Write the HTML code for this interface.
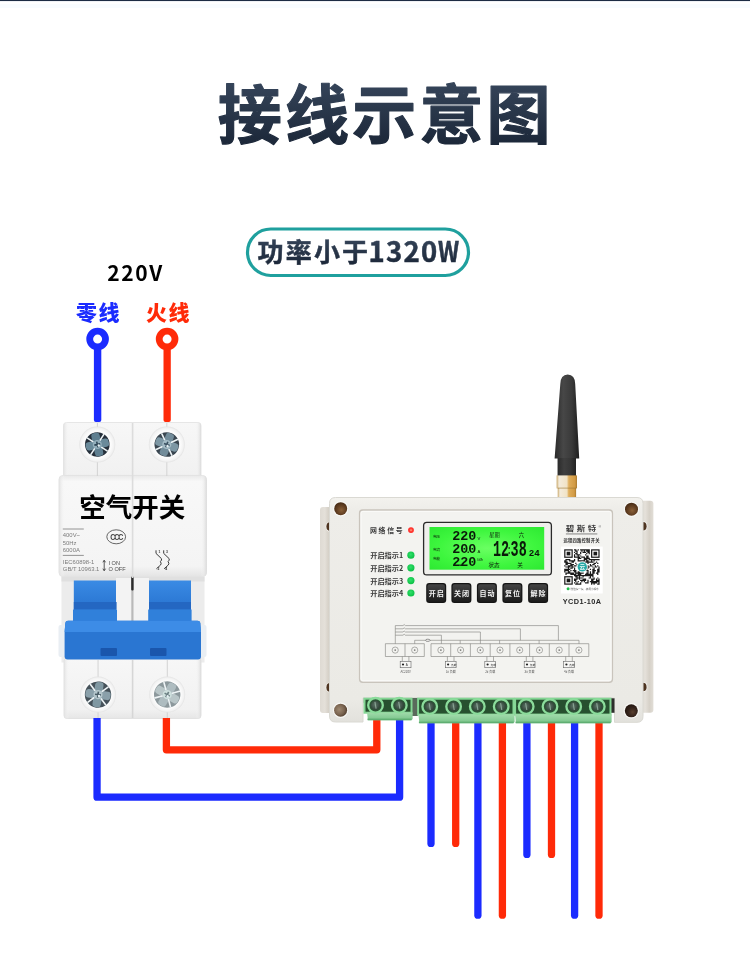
<!DOCTYPE html>
<html lang="zh-CN">
<head>
<meta charset="utf-8">
<title>接线示意图</title>
<style>
html,body{margin:0;padding:0;background:#fff;}
body{width:750px;height:975px;overflow:hidden;font-family:"Liberation Sans","Noto Sans CJK SC",sans-serif;}
svg{display:block;will-change:transform;}
text{font-family:"Liberation Sans","Noto Sans CJK SC",sans-serif;}
.cjk{font-family:"Noto Sans CJK SC","Liberation Sans",sans-serif;}
</style>
</head>
<body>
<svg width="750" height="975" viewBox="0 0 750 975">
<defs>
<linearGradient id="gTitle" x1="0" y1="0" x2="0" y2="1">
 <stop offset="0" stop-color="#3d4d63"/><stop offset="1" stop-color="#172233"/>
</linearGradient>
<linearGradient id="gTopbg" x1="0" y1="0" x2="0" y2="1">
 <stop offset="0" stop-color="#e8f1fa"/><stop offset="1" stop-color="#ffffff"/>
</linearGradient>
<radialGradient id="gScrew" cx="0.45" cy="0.45" r="0.6">
 <stop offset="0" stop-color="#b8c4c8"/><stop offset="0.6" stop-color="#6f7d84"/><stop offset="1" stop-color="#3a4448"/>
</radialGradient>
<radialGradient id="gLcd" cx="0.5" cy="0.5" r="0.7">
 <stop offset="0" stop-color="#6aff62"/><stop offset="0.6" stop-color="#3ef63e"/><stop offset="1" stop-color="#2de932"/>
</radialGradient>
<linearGradient id="gAnt" x1="0" y1="0" x2="1" y2="0">
 <stop offset="0" stop-color="#2a2a2a"/><stop offset="0.35" stop-color="#474747"/><stop offset="0.7" stop-color="#3a3a3a"/><stop offset="1" stop-color="#1e1e1e"/>
</linearGradient>
<linearGradient id="gGold" x1="0" y1="0" x2="1" y2="0">
 <stop offset="0" stop-color="#c9a86a"/><stop offset="0.12" stop-color="#f4ecdc"/><stop offset="0.5" stop-color="#f1e3c6"/><stop offset="0.6" stop-color="#dfae5c"/><stop offset="0.9" stop-color="#d29a44"/><stop offset="1" stop-color="#a87a30"/>
</linearGradient>
<radialGradient id="gHole" cx="0.55" cy="0.6" r="0.6">
 <stop offset="0" stop-color="#8a6038"/><stop offset="0.65" stop-color="#5e3c20"/><stop offset="1" stop-color="#452a14"/>
</radialGradient>
<radialGradient id="gHole2" cx="0.4" cy="0.45" r="0.65">
 <stop offset="0" stop-color="#a08a72"/><stop offset="0.6" stop-color="#7a6450"/><stop offset="1" stop-color="#4a3828"/>
</radialGradient>
<radialGradient id="gHole3" cx="0.6" cy="0.6" r="0.6">
 <stop offset="0" stop-color="#5a4030"/><stop offset="0.6" stop-color="#33221a"/><stop offset="1" stop-color="#241710"/>
</radialGradient>
</defs>
<rect x="0" y="0" width="750" height="975" fill="#ffffff"/>
<rect x="0" y="0" width="750" height="1" fill="#1c2c44"/>
<rect x="0" y="1" width="750" height="1" fill="#eef1f5"/>
<rect x="0" y="4" width="750" height="4" fill="#f8fcff"/>
<text class="cjk" x="385.8" y="138" text-anchor="middle" font-size="64" font-weight="700" letter-spacing="3.2" fill="url(#gTitle)" stroke="url(#gTitle)" stroke-width="1.2" stroke-linejoin="round">接线示意图</text>
<rect x="247.5" y="229" width="221" height="46.5" rx="23.25" fill="#fff" stroke="#1fa09e" stroke-width="3.2"/>
<text class="cjk" y="261.5" font-weight="700" fill="url(#gTitle)" stroke="url(#gTitle)" stroke-width="0.5"><tspan x="257.5" font-size="26" letter-spacing="2.2">功率小于</tspan><tspan x="368.5" font-size="27.5" letter-spacing="1.3">1320</tspan></text>
<text class="cjk" transform="translate(438 261.5) scale(0.84 1)" font-size="27.5" font-weight="700" fill="url(#gTitle)" stroke="#1f2c3f" stroke-width="0.5">W</text>
<text x="135.6" y="281" text-anchor="middle" font-size="21" font-weight="700" letter-spacing="1.6" fill="#000" class="cjk">220V</text>
<text class="cjk" x="76" y="320" font-size="21" font-weight="900" letter-spacing="1.6" fill="#1b2bff">零线</text>
<text class="cjk" x="146" y="320" font-size="21" font-weight="900" letter-spacing="1.6" fill="#ff2a08">火线</text>
<rect x="93.9" y="345" width="7.4" height="77" rx="2" fill="#1b2bff"/>
<rect x="163.5" y="345" width="7.3" height="77" rx="2" fill="#ff2a08"/>
<circle cx="97.6" cy="339.1" r="7.9" fill="#fff" stroke="#1b2bff" stroke-width="6.8"/>
<circle cx="167.1" cy="339.1" r="7.9" fill="#fff" stroke="#ff2a08" stroke-width="6.8"/>
<defs>
<linearGradient id="gBrTop" x1="0" y1="0" x2="0" y2="1"><stop offset="0" stop-color="#f7f7f7"/><stop offset="0.85" stop-color="#f1f1f1"/><stop offset="1" stop-color="#e6e6e6"/></linearGradient>
<linearGradient id="gBrBody" x1="0" y1="0" x2="0" y2="1"><stop offset="0" stop-color="#e9e9e9"/><stop offset="0.06" stop-color="#f8f8f8"/><stop offset="0.9" stop-color="#f4f4f4"/><stop offset="1" stop-color="#e4e4e4"/></linearGradient>
<linearGradient id="gBrSide" x1="0" y1="0" x2="1" y2="0"><stop offset="0" stop-color="#e2e2e2"/><stop offset="0.04" stop-color="#f8f8f8" stop-opacity="0"/><stop offset="0.96" stop-color="#f8f8f8" stop-opacity="0"/><stop offset="1" stop-color="#dcdcdc"/></linearGradient>
<linearGradient id="gTog" x1="0" y1="0" x2="0" y2="1"><stop offset="0" stop-color="#3a8be4"/><stop offset="0.45" stop-color="#2d7ad6"/><stop offset="1" stop-color="#246bc4"/></linearGradient>
<linearGradient id="gHandle" x1="0" y1="0" x2="0" y2="1"><stop offset="0" stop-color="#3f8fe6"/><stop offset="0.22" stop-color="#3684de"/><stop offset="0.3" stop-color="#2a73cf"/><stop offset="1" stop-color="#2468c2"/></linearGradient>
<radialGradient id="gRecess" cx="0.5" cy="0.5" r="0.5"><stop offset="0.7" stop-color="#ffffff"/><stop offset="0.92" stop-color="#f2f2f2"/><stop offset="1" stop-color="#e3e3e3"/></radialGradient>
</defs>
<g id="breaker">
<rect x="63.5" y="422.5" width="137.5" height="60" rx="3" fill="url(#gBrTop)" stroke="#e6e6e6" stroke-width="1"/>
<rect x="63.5" y="422.5" width="137.5" height="60" rx="3" fill="url(#gBrSide)"/>
<rect x="59" y="475.5" width="147.5" height="101" rx="4" fill="url(#gBrBody)" stroke="#e3e3e3" stroke-width="1"/>
<rect x="59" y="475.5" width="147.5" height="101" rx="4" fill="url(#gBrSide)"/>
<rect x="61.5" y="576.5" width="143" height="86" fill="#ececec"/>
<rect x="61.5" y="576.5" width="143" height="5" fill="#e0e0e0"/>
<rect x="116" y="578" width="33" height="46" fill="#f3f3f3"/>
<rect x="131.3" y="578" width="2.2" height="44" fill="#b9b9b9"/>
<rect x="131.2" y="576.5" width="2.4" height="14" rx="1" fill="#2b2b2b"/>
<rect x="64" y="658" width="137" height="60.5" rx="3" fill="url(#gBrTop)" stroke="#e2e2e2" stroke-width="1"/>
<rect x="64" y="658" width="137" height="60.5" rx="3" fill="url(#gBrSide)"/>
<rect x="131.8" y="423" width="1.6" height="155" fill="#dcdcdc"/>
<rect x="131.8" y="660" width="1.6" height="58" fill="#d6d6d6"/>
<rect x="96.89999999999999" y="423" width="0.9" height="53" fill="#cfcfcf"/>
<rect x="166.4" y="423" width="0.9" height="53" fill="#cfcfcf"/>
<rect x="97.6" y="660" width="0.9" height="58" fill="#cfcfcf"/>
<rect x="166.79999999999998" y="660" width="0.9" height="58" fill="#cfcfcf"/>
<circle cx="97.3" cy="444.5" r="18" fill="url(#gRecess)"/>
<circle cx="97.3" cy="444.5" r="13.3" fill="#fbfbfb"/>
<g transform="rotate(-12 97.3 444.5)">
<circle cx="97.3" cy="444.5" r="12.3" fill="#252f3a"/>
<rect x="85.6" y="440.3" width="23.400000000000002" height="8.4" rx="3" fill="#6a8a9a"/>
<rect x="93.1" y="432.8" width="8.4" height="23.400000000000002" rx="3" fill="#5f7f90"/>
<path d="M101.0 448.2L105.6 452.8" stroke="#eef4f6" stroke-width="1.6" stroke-linecap="round"/>
<path d="M93.6 448.2L89.0 452.8" stroke="#eef4f6" stroke-width="1.6" stroke-linecap="round"/>
<path d="M93.6 440.8L89.0 436.2" stroke="#eef4f6" stroke-width="1.6" stroke-linecap="round"/>
<path d="M101.0 440.8L105.6 436.2" stroke="#eef4f6" stroke-width="1.6" stroke-linecap="round"/>
<circle cx="97.3" cy="444.5" r="4.6" fill="#93afbc"/>
<path d="M94.3 444.5H100.3M97.3 441.5V447.5" stroke="#2e4656" stroke-width="1.6"/>
<circle cx="98.5" cy="445.7" r="1.2" fill="#e6f0f4"/>
</g>
<circle cx="166.8" cy="444.5" r="18" fill="url(#gRecess)"/>
<circle cx="166.8" cy="444.5" r="13.3" fill="#fbfbfb"/>
<g transform="rotate(20 166.8 444.5)">
<circle cx="166.8" cy="444.5" r="12.3" fill="#3a4650"/>
<rect x="155.1" y="440.3" width="23.400000000000002" height="8.4" rx="3" fill="#7d97a4"/>
<rect x="162.60000000000002" y="432.8" width="8.4" height="23.400000000000002" rx="3" fill="#728c9a"/>
<path d="M170.5 448.2L175.1 452.8" stroke="#eef4f6" stroke-width="1.6" stroke-linecap="round"/>
<path d="M163.1 448.2L158.5 452.8" stroke="#eef4f6" stroke-width="1.6" stroke-linecap="round"/>
<path d="M163.1 440.8L158.5 436.2" stroke="#eef4f6" stroke-width="1.6" stroke-linecap="round"/>
<path d="M170.5 440.8L175.1 436.2" stroke="#eef4f6" stroke-width="1.6" stroke-linecap="round"/>
<circle cx="166.8" cy="444.5" r="4.6" fill="#a5bcc6"/>
<path d="M163.8 444.5H169.8M166.8 441.5V447.5" stroke="#3a5060" stroke-width="1.6"/>
<circle cx="168.0" cy="445.7" r="1.2" fill="#e6f0f4"/>
</g>
<circle cx="98" cy="694.6" r="18" fill="url(#gRecess)"/>
<circle cx="98" cy="694.6" r="14.2" fill="#fbfbfb"/>
<g transform="rotate(8 98 694.6)">
<circle cx="98" cy="694.6" r="13.2" fill="#46525a"/>
<rect x="85.39999999999999" y="690.4" width="25.2" height="8.4" rx="3" fill="#8aa0aa"/>
<rect x="93.8" y="682.0" width="8.4" height="25.2" rx="3" fill="#8098a2"/>
<path d="M101.7 698.3L106.9 703.5" stroke="#eef4f6" stroke-width="1.6" stroke-linecap="round"/>
<path d="M94.3 698.3L89.1 703.5" stroke="#eef4f6" stroke-width="1.6" stroke-linecap="round"/>
<path d="M94.3 690.9L89.1 685.7" stroke="#eef4f6" stroke-width="1.6" stroke-linecap="round"/>
<path d="M101.7 690.9L106.9 685.7" stroke="#eef4f6" stroke-width="1.6" stroke-linecap="round"/>
<circle cx="98" cy="694.6" r="4.6" fill="#b4c6cc"/>
<path d="M95 694.6H101M98 691.6V697.6" stroke="#485c66" stroke-width="1.6"/>
<circle cx="99.2" cy="695.8000000000001" r="1.2" fill="#e6f0f4"/>
</g>
<circle cx="167.2" cy="694.6" r="18" fill="url(#gRecess)"/>
<circle cx="167.2" cy="694.6" r="14.2" fill="#fbfbfb"/>
<g transform="rotate(30 167.2 694.6)">
<circle cx="167.2" cy="694.6" r="13.2" fill="#8c989c"/>
<rect x="154.6" y="690.4" width="25.2" height="8.4" rx="3" fill="#b9c6c8"/>
<rect x="163.0" y="682.0" width="8.4" height="25.2" rx="3" fill="#aebcc0"/>
<path d="M170.9 698.3L176.1 703.5" stroke="#eef4f6" stroke-width="1.6" stroke-linecap="round"/>
<path d="M163.5 698.3L158.3 703.5" stroke="#eef4f6" stroke-width="1.6" stroke-linecap="round"/>
<path d="M163.5 690.9L158.3 685.7" stroke="#eef4f6" stroke-width="1.6" stroke-linecap="round"/>
<path d="M170.9 690.9L176.1 685.7" stroke="#eef4f6" stroke-width="1.6" stroke-linecap="round"/>
<circle cx="167.2" cy="694.6" r="4.6" fill="#cfe0de"/>
<path d="M164.2 694.6H170.2M167.2 691.6V697.6" stroke="#6c8084" stroke-width="1.6"/>
<circle cx="168.39999999999998" cy="695.8000000000001" r="1.2" fill="#e6f0f4"/>
</g>
<text class="cjk" x="132.3" y="516.5" text-anchor="middle" font-size="26.5" font-weight="700" fill="#000">空气开关</text>
<path d="M62.8 529H83.8M62.8 555.4H83.8" stroke="#7b7b7b" stroke-width="0.8"/>
<text x="62.8" y="537.4" font-size="5.9" fill="#7b7b7b" >400V~</text>
<text x="62.8" y="544.6" font-size="5.9" fill="#7b7b7b" >50Hz</text>
<text x="62.8" y="552.4" font-size="5.9" fill="#7b7b7b" >6000A</text>
<text x="62.8" y="563.8" font-size="5.9" fill="#7b7b7b" >IEC60898-1</text>
<text x="62.8" y="571" font-size="5.9" fill="#7b7b7b" >GB/T 10963.1</text>
<text x="108.5" y="564.5" font-size="5.6" fill="#7b7b7b" style="fill:#4a4a4a">I ON</text>
<text x="108.5" y="570.6" font-size="5.6" fill="#7b7b7b" style="fill:#4a4a4a">O OFF</text>
<path d="M104.2 560.5V570.5M102.9 562.3L104.2 560.2L105.5 562.3M102.9 568.7L104.2 570.8L105.5 568.7" stroke="#444" stroke-width="0.9" fill="none"/>
<ellipse cx="116.2" cy="536.8" rx="9.4" ry="7" fill="none" stroke="#555" stroke-width="0.9"/>
<text x="116.2" y="540" text-anchor="middle" font-size="9" font-weight="700" fill="#444" letter-spacing="-1.6" transform="translate(116.2 0) scale(0.8 1) translate(-116.2 0)">CCC</text>
<path d="M156.0 550.3V553.4L161.4 558.6Q162.2 560 160.4 561.6Q161.8 563.4 160.6 565L156.4 568.8" stroke="#3a3a3a" stroke-width="1" fill="none"/>
<path d="M163.7 550.3V553.4L169.1 558.6Q169.89999999999998 560 168.1 561.6Q169.5 563.4 168.29999999999998 565L164.1 568.8" stroke="#3a3a3a" stroke-width="1" fill="none"/>
<text x="158.4" y="553" font-size="3.4" font-weight="700" fill="#333">1</text><text x="166.1" y="553" font-size="3.4" font-weight="700" fill="#333">3</text><text x="157.6" y="569.6" font-size="3.4" font-weight="700" fill="#333">2</text><text x="165.3" y="569.6" font-size="3.4" font-weight="700" fill="#333">4</text>
<rect x="73.8" y="580.5" width="42.2" height="46" fill="url(#gTog)"/>
<rect x="149" y="580.5" width="42" height="46" fill="url(#gTog)"/>
<rect x="73.8" y="602" width="42.8" height="7.5" fill="#2467c2"/>
<rect x="149" y="602" width="42" height="7.5" fill="#2467c2"/>
<rect x="73" y="609.5" width="44" height="14" fill="#3080da"/>
<rect x="148.2" y="609.5" width="43.4" height="14" fill="#3080da"/>
<rect x="200" y="625" width="6.5" height="32" rx="2" fill="#e9eef3"/>
<rect x="58.5" y="625" width="6.5" height="32" rx="2" fill="#e9eef3"/>
<path d="M68 620.8H197.5Q200 620.8 200.3 623L201 632V656.6Q201 659.6 198 659.6H67.6Q64.6 659.6 64.6 656.6V632L65.3 623Q65.6 620.8 68 620.8Z" fill="#2a76d2"/>
<path d="M68 620.8H197.5Q200 620.8 200.3 623L201 632H64.6L65.3 623Q65.6 620.8 68 620.8Z" fill="#3d8ce6"/>
<rect x="100.5" y="648" width="16.5" height="8" rx="1" fill="#1a56ac"/>
<rect x="150" y="648" width="16.5" height="8" rx="1" fill="#1a56ac"/>
</g>
<path d="M97.05 718V797.2H399.6V719" fill="none" stroke="#1b2bff" stroke-width="7.3" stroke-linejoin="round"/>
<path d="M166.4 718V749.8H376.8V719" fill="none" stroke="#ff2a08" stroke-width="7.3" stroke-linejoin="round"/>
<path d="M431 720V843.4" fill="none" stroke="#1b2bff" stroke-width="7.3" stroke-linecap="round"/>
<path d="M455.7 720V843.4" fill="none" stroke="#ff2a08" stroke-width="7.3" stroke-linecap="round"/>
<path d="M477.9 720V915.2" fill="none" stroke="#1b2bff" stroke-width="7.3" stroke-linecap="round"/>
<path d="M502.4 720V915.2" fill="none" stroke="#ff2a08" stroke-width="7.3" stroke-linecap="round"/>
<path d="M526.9 720V854.4" fill="none" stroke="#1b2bff" stroke-width="7.3" stroke-linecap="round"/>
<path d="M551.5 720V854.4" fill="none" stroke="#ff2a08" stroke-width="7.3" stroke-linecap="round"/>
<path d="M574.6 720V915.2" fill="none" stroke="#1b2bff" stroke-width="7.3" stroke-linecap="round"/>
<path d="M599 720V915.2" fill="none" stroke="#ff2a08" stroke-width="7.3" stroke-linecap="round"/>
<defs>
<linearGradient id="gBody" x1="0" y1="0" x2="0" y2="1"><stop offset="0" stop-color="#f3f2ee"/><stop offset="0.05" stop-color="#eeede9"/><stop offset="0.9" stop-color="#ebeae5"/><stop offset="1" stop-color="#e2e1dc"/></linearGradient>
<linearGradient id="gSideL" x1="0" y1="0" x2="1" y2="0"><stop offset="0" stop-color="#dedad3"/><stop offset="0.4" stop-color="#e4e0d9"/><stop offset="0.7" stop-color="#d6d1c8"/><stop offset="1" stop-color="#e2ded7"/></linearGradient>
<linearGradient id="gBtn" x1="0" y1="0" x2="0" y2="1"><stop offset="0" stop-color="#444444"/><stop offset="0.5" stop-color="#2e2e2e"/><stop offset="1" stop-color="#1c1c1c"/></linearGradient>
<radialGradient id="gLedG" cx="0.45" cy="0.4" r="0.6"><stop offset="0" stop-color="#2fe06a"/><stop offset="1" stop-color="#0bbf44"/></radialGradient>
<radialGradient id="gLedR" cx="0.5" cy="0.5" r="0.5"><stop offset="0" stop-color="#ffd0c0"/><stop offset="0.35" stop-color="#ff4a3a"/><stop offset="1" stop-color="#ff2222"/></radialGradient>
<radialGradient id="gTScrew" cx="0.45" cy="0.45" r="0.6"><stop offset="0" stop-color="#5d7568"/><stop offset="1" stop-color="#2c3d33"/></radialGradient>
</defs>
<g id="ctrl">
<path d="M560.3 384 Q560.5 375 567.7 374.6 Q575 375 575.2 384 L579.2 458.5 L554.6 458.5 Z" fill="url(#gAnt)"/>
<rect x="557.7" y="458" width="18.3" height="18" fill="#2c2c2c"/>
<rect x="557.7" y="458" width="18.3" height="18" fill="url(#gAnt)" opacity="0.7"/>
<rect x="556.6" y="475.4" width="20.4" height="13" fill="url(#gGold)"/>
<rect x="557.7" y="488" width="18.4" height="10" fill="url(#gGold)"/>
<rect x="557.7" y="487.6" width="18.4" height="1" fill="#9a7430" opacity="0.6"/>
<rect x="320" y="507" width="12" height="206" rx="3" fill="url(#gSideL)"/>
<rect x="640" y="500.7" width="13.4" height="212" rx="3" fill="url(#gSideL)"/>
<ellipse cx="330" cy="526.6" rx="4.4" ry="5.2" fill="#f6f5f2"/>
<ellipse cx="330" cy="526.6" rx="3.6" ry="4.3" fill="#4e3420"/>
<ellipse cx="330" cy="687.4" rx="4.4" ry="5.2" fill="#f6f5f2"/>
<ellipse cx="330" cy="687.4" rx="3.6" ry="4.3" fill="#4e3420"/>
<ellipse cx="643" cy="526.3" rx="4.4" ry="5.2" fill="#f6f5f2"/>
<ellipse cx="643" cy="526.3" rx="3.6" ry="4.3" fill="#4e3420"/>
<ellipse cx="643" cy="687" rx="4.4" ry="5.2" fill="#f6f5f2"/>
<ellipse cx="643" cy="687" rx="3.6" ry="4.3" fill="#4e3420"/>
<path d="M335.5 497.5H637Q643 497.5 643 503.5V716.3Q643 722.3 637 722.3H614.5V698H363V722H335.5Q329.5 722 329.5 716V503.5Q329.5 497.5 335.5 497.5Z" fill="url(#gBody)" stroke="#dad9d3" stroke-width="1"/>
<rect x="359.6" y="510" width="252.8" height="172.2" rx="3" fill="#f3f3f0" stroke="#c9c4bc" stroke-width="1.4"/>
<rect x="361" y="511.4" width="250" height="169.4" rx="2" fill="none" stroke="#fbfbf9" stroke-width="1"/>
<circle cx="340.7" cy="508.7" r="7.7" fill="#f8f7f4"/>
<circle cx="340.7" cy="508.7" r="6.5" fill="url(#gHole)"/>
<circle cx="631.5" cy="509.2" r="7.7" fill="#f8f7f4"/>
<circle cx="631.5" cy="509.2" r="6.5" fill="url(#gHole)"/>
<circle cx="340.6" cy="710.2" r="7.7" fill="#f8f7f4"/>
<circle cx="340.6" cy="710.2" r="6.5" fill="url(#gHole2)"/>
<circle cx="631.3" cy="710.8" r="7.7" fill="#f8f7f4"/>
<circle cx="631.3" cy="710.8" r="6.5" fill="url(#gHole3)"/>
<text class="cjk" x="370" y="533" font-size="6.9" font-weight="700" letter-spacing="1.7" fill="#3a3a3a">网络信号</text>
<circle cx="411" cy="530.1" r="2.9" fill="url(#gLedR)"/>
<text class="cjk" x="370.2" y="558.1" font-size="7.2" font-weight="700" fill="#3a3a3a">开启指示1</text>
<circle cx="410.9" cy="555.2" r="3.6" fill="url(#gLedG)"/>
<text class="cjk" x="370.2" y="570.6999999999999" font-size="7.2" font-weight="700" fill="#3a3a3a">开启指示2</text>
<circle cx="410.9" cy="567.8" r="3.6" fill="url(#gLedG)"/>
<text class="cjk" x="370.2" y="583.5" font-size="7.2" font-weight="700" fill="#3a3a3a">开启指示3</text>
<circle cx="410.9" cy="580.6" r="3.6" fill="url(#gLedG)"/>
<text class="cjk" x="370.2" y="595.9" font-size="7.2" font-weight="700" fill="#3a3a3a">开启指示4</text>
<circle cx="410.9" cy="593" r="3.6" fill="url(#gLedG)"/>
<rect x="423.6" y="522.3" width="127.8" height="52.6" rx="3.2" fill="#efefec" stroke="#2a2a2a" stroke-width="1.3"/>
<rect x="429.5" y="527" width="114.7" height="42.7" fill="url(#gLcd)"/>
<text transform="translate(452.3 539.8) scale(1.0 1)" font-size="13.4" letter-spacing="0" fill="#0a1a0a" style="font-family:'Liberation Mono','DejaVu Sans Mono',monospace;font-weight:700">220</text>
<text transform="translate(452.3 552.8) scale(1.0 1)" font-size="13.4" letter-spacing="0" fill="#0a1a0a" style="font-family:'Liberation Mono','DejaVu Sans Mono',monospace;font-weight:700">200</text>
<text transform="translate(452.3 566) scale(1.0 1)" font-size="13.4" letter-spacing="0" fill="#0a1a0a" style="font-family:'Liberation Mono','DejaVu Sans Mono',monospace;font-weight:700">220</text>
<text transform="translate(465.6 552.8) scale(1.0 1)" font-size="9" letter-spacing="0" fill="#0a1a0a" style="font-family:'Liberation Mono','DejaVu Sans Mono',monospace;font-weight:700">.</text>
<text transform="translate(457.6 566) scale(1.0 1)" font-size="9" letter-spacing="0" fill="#0a1a0a" style="font-family:'Liberation Mono','DejaVu Sans Mono',monospace;font-weight:700">.</text>
<text x="477.6" y="539.8" font-size="4.2" fill="#0a1a0a">V</text>
<text x="477.6" y="552.8" font-size="4.2" fill="#0a1a0a">A</text>
<text x="477.2" y="561.2" font-size="3" fill="#0a1a0a">kWh</text>
<text class="cjk" x="433.2" y="538.3" font-size="3.4" fill="#0a1a0a">电压</text>
<text class="cjk" x="433.2" y="551" font-size="3.4" fill="#0a1a0a">电流</text>
<text class="cjk" x="433.2" y="560.2" font-size="3.4" fill="#0a1a0a">电能</text>
<text class="cjk" x="489.3" y="536.6" font-size="5.2" fill="#0a1a0a">星期</text>
<text class="cjk" x="518.8" y="536.6" font-size="5.2" fill="#0a1a0a">六</text>
<text transform="translate(493 556.3) scale(0.62 1)" font-size="21.6" letter-spacing="0" fill="#0a1a0a" style="font-family:'Liberation Mono','DejaVu Sans Mono',monospace;font-weight:700">12</text>
<text transform="translate(510.6 556.3) scale(0.62 1)" font-size="21.6" letter-spacing="0" fill="#0a1a0a" style="font-family:'Liberation Mono','DejaVu Sans Mono',monospace;font-weight:700">38</text>
<text transform="translate(506.9 554.2) scale(0.6 1)" font-size="12" letter-spacing="0" fill="#0a1a0a" style="font-family:'Liberation Mono','DejaVu Sans Mono',monospace;font-weight:700">:</text>
<text transform="translate(528.8 556.3) scale(0.98 1)" font-size="9.4" letter-spacing="0" fill="#0a1a0a" style="font-family:'Liberation Mono','DejaVu Sans Mono',monospace;font-weight:700">24</text>
<text class="cjk" x="488.5" y="567.4" font-size="5.6" fill="#0a1a0a">状态</text>
<text class="cjk" x="517.3" y="567.4" font-size="5.6" fill="#0a1a0a">关</text>
<rect x="426.2" y="583" width="20" height="20" rx="3" fill="#151515"/>
<rect x="427.4" y="584.2" width="17.6" height="17.6" rx="2.2" fill="url(#gBtn)"/>
<text class="cjk" x="436.7" y="595.6" text-anchor="middle" font-size="7" font-weight="700" letter-spacing="1" fill="#f4f4f4">开启</text>
<rect x="451.4" y="583" width="20" height="20" rx="3" fill="#151515"/>
<rect x="452.59999999999997" y="584.2" width="17.6" height="17.6" rx="2.2" fill="url(#gBtn)"/>
<text class="cjk" x="461.9" y="595.6" text-anchor="middle" font-size="7" font-weight="700" letter-spacing="1" fill="#f4f4f4">关闭</text>
<rect x="476.9" y="583" width="20" height="20" rx="3" fill="#151515"/>
<rect x="478.09999999999997" y="584.2" width="17.6" height="17.6" rx="2.2" fill="url(#gBtn)"/>
<text class="cjk" x="487.4" y="595.6" text-anchor="middle" font-size="7" font-weight="700" letter-spacing="1" fill="#f4f4f4">自动</text>
<rect x="502.4" y="583" width="20" height="20" rx="3" fill="#151515"/>
<rect x="503.59999999999997" y="584.2" width="17.6" height="17.6" rx="2.2" fill="url(#gBtn)"/>
<text class="cjk" x="512.9" y="595.6" text-anchor="middle" font-size="7" font-weight="700" letter-spacing="1" fill="#f4f4f4">复位</text>
<rect x="528.1" y="583" width="20" height="20" rx="3" fill="#151515"/>
<rect x="529.3000000000001" y="584.2" width="17.6" height="17.6" rx="2.2" fill="url(#gBtn)"/>
<text class="cjk" x="538.6" y="595.6" text-anchor="middle" font-size="7" font-weight="700" letter-spacing="1" fill="#f4f4f4">解除</text>
<text class="cjk" transform="translate(565.8 531.3) scale(1.18 1)" font-size="7.2" font-weight="700" letter-spacing="2.1" fill="#3c3c3c">碧斯特</text>
<text x="598.6" y="527.6" font-size="3.4" fill="#555">®</text>
<rect x="565.9" y="533.6" width="31.4" height="0.7" fill="#555"/>
<text class="cjk" x="563.4" y="542" font-size="4.3" font-weight="700" letter-spacing="0.25" fill="#2c2c2c">远程四路控制开关</text>
<rect x="560.9" y="546.6" width="41.8" height="46.9" fill="#ffffff"/>
<path d="M573.97 549.30h1.22v1.22h-1.22zM575.19 549.30h1.22v1.22h-1.22zM577.63 549.30h1.22v1.22h-1.22zM580.07 549.30h1.22v1.22h-1.22zM581.29 549.30h1.22v1.22h-1.22zM582.51 549.30h1.22v1.22h-1.22zM583.73 549.30h1.22v1.22h-1.22zM584.95 549.30h1.22v1.22h-1.22zM586.17 549.30h1.22v1.22h-1.22zM587.39 549.30h1.22v1.22h-1.22zM588.61 549.30h1.22v1.22h-1.22zM575.19 550.52h1.22v1.22h-1.22zM576.41 550.52h1.22v1.22h-1.22zM581.29 550.52h1.22v1.22h-1.22zM583.73 550.52h1.22v1.22h-1.22zM586.17 550.52h1.22v1.22h-1.22zM587.39 550.52h1.22v1.22h-1.22zM588.61 550.52h1.22v1.22h-1.22zM573.97 551.74h1.22v1.22h-1.22zM576.41 551.74h1.22v1.22h-1.22zM580.07 551.74h1.22v1.22h-1.22zM582.51 551.74h1.22v1.22h-1.22zM583.73 551.74h1.22v1.22h-1.22zM584.95 551.74h1.22v1.22h-1.22zM587.39 551.74h1.22v1.22h-1.22zM588.61 551.74h1.22v1.22h-1.22zM575.19 552.96h1.22v1.22h-1.22zM576.41 552.96h1.22v1.22h-1.22zM580.07 552.96h1.22v1.22h-1.22zM586.17 552.96h1.22v1.22h-1.22zM588.61 552.96h1.22v1.22h-1.22zM573.97 554.18h1.22v1.22h-1.22zM576.41 554.18h1.22v1.22h-1.22zM577.63 554.18h1.22v1.22h-1.22zM578.85 554.18h1.22v1.22h-1.22zM584.95 554.18h1.22v1.22h-1.22zM573.97 555.40h1.22v1.22h-1.22zM577.63 555.40h1.22v1.22h-1.22zM580.07 555.40h1.22v1.22h-1.22zM586.17 555.40h1.22v1.22h-1.22zM587.39 555.40h1.22v1.22h-1.22zM573.97 556.62h1.22v1.22h-1.22zM575.19 556.62h1.22v1.22h-1.22zM576.41 556.62h1.22v1.22h-1.22zM577.63 556.62h1.22v1.22h-1.22zM578.85 556.62h1.22v1.22h-1.22zM581.29 556.62h1.22v1.22h-1.22zM582.51 556.62h1.22v1.22h-1.22zM583.73 556.62h1.22v1.22h-1.22zM586.17 556.62h1.22v1.22h-1.22zM587.39 556.62h1.22v1.22h-1.22zM577.63 557.84h1.22v1.22h-1.22zM578.85 557.84h1.22v1.22h-1.22zM580.07 557.84h1.22v1.22h-1.22zM583.73 557.84h1.22v1.22h-1.22zM584.95 557.84h1.22v1.22h-1.22zM586.17 557.84h1.22v1.22h-1.22zM587.39 557.84h1.22v1.22h-1.22zM588.61 557.84h1.22v1.22h-1.22zM565.42 559.07h1.22v1.22h-1.22zM566.64 559.07h1.22v1.22h-1.22zM567.86 559.07h1.22v1.22h-1.22zM569.08 559.07h1.22v1.22h-1.22zM573.97 559.07h1.22v1.22h-1.22zM577.63 559.07h1.22v1.22h-1.22zM583.73 559.07h1.22v1.22h-1.22zM584.95 559.07h1.22v1.22h-1.22zM586.17 559.07h1.22v1.22h-1.22zM588.61 559.07h1.22v1.22h-1.22zM589.83 559.07h1.22v1.22h-1.22zM591.06 559.07h1.22v1.22h-1.22zM592.28 559.07h1.22v1.22h-1.22zM593.50 559.07h1.22v1.22h-1.22zM594.72 559.07h1.22v1.22h-1.22zM595.94 559.07h1.22v1.22h-1.22zM597.16 559.07h1.22v1.22h-1.22zM598.38 559.07h1.22v1.22h-1.22zM564.20 560.29h1.22v1.22h-1.22zM565.42 560.29h1.22v1.22h-1.22zM569.08 560.29h1.22v1.22h-1.22zM570.30 560.29h1.22v1.22h-1.22zM571.52 560.29h1.22v1.22h-1.22zM572.74 560.29h1.22v1.22h-1.22zM573.97 560.29h1.22v1.22h-1.22zM577.63 560.29h1.22v1.22h-1.22zM578.85 560.29h1.22v1.22h-1.22zM580.07 560.29h1.22v1.22h-1.22zM581.29 560.29h1.22v1.22h-1.22zM582.51 560.29h1.22v1.22h-1.22zM583.73 560.29h1.22v1.22h-1.22zM586.17 560.29h1.22v1.22h-1.22zM587.39 560.29h1.22v1.22h-1.22zM591.06 560.29h1.22v1.22h-1.22zM593.50 560.29h1.22v1.22h-1.22zM564.20 561.51h1.22v1.22h-1.22zM565.42 561.51h1.22v1.22h-1.22zM566.64 561.51h1.22v1.22h-1.22zM571.52 561.51h1.22v1.22h-1.22zM572.74 561.51h1.22v1.22h-1.22zM584.95 561.51h1.22v1.22h-1.22zM586.17 561.51h1.22v1.22h-1.22zM587.39 561.51h1.22v1.22h-1.22zM588.61 561.51h1.22v1.22h-1.22zM589.83 561.51h1.22v1.22h-1.22zM591.06 561.51h1.22v1.22h-1.22zM592.28 561.51h1.22v1.22h-1.22zM595.94 561.51h1.22v1.22h-1.22zM565.42 562.73h1.22v1.22h-1.22zM566.64 562.73h1.22v1.22h-1.22zM567.86 562.73h1.22v1.22h-1.22zM569.08 562.73h1.22v1.22h-1.22zM570.30 562.73h1.22v1.22h-1.22zM575.19 562.73h1.22v1.22h-1.22zM587.39 562.73h1.22v1.22h-1.22zM593.50 562.73h1.22v1.22h-1.22zM594.72 562.73h1.22v1.22h-1.22zM597.16 562.73h1.22v1.22h-1.22zM565.42 563.95h1.22v1.22h-1.22zM566.64 563.95h1.22v1.22h-1.22zM570.30 563.95h1.22v1.22h-1.22zM571.52 563.95h1.22v1.22h-1.22zM572.74 563.95h1.22v1.22h-1.22zM576.41 563.95h1.22v1.22h-1.22zM589.83 563.95h1.22v1.22h-1.22zM592.28 563.95h1.22v1.22h-1.22zM593.50 563.95h1.22v1.22h-1.22zM564.20 565.17h1.22v1.22h-1.22zM567.86 565.17h1.22v1.22h-1.22zM569.08 565.17h1.22v1.22h-1.22zM570.30 565.17h1.22v1.22h-1.22zM571.52 565.17h1.22v1.22h-1.22zM573.97 565.17h1.22v1.22h-1.22zM575.19 565.17h1.22v1.22h-1.22zM587.39 565.17h1.22v1.22h-1.22zM589.83 565.17h1.22v1.22h-1.22zM591.06 565.17h1.22v1.22h-1.22zM594.72 565.17h1.22v1.22h-1.22zM597.16 565.17h1.22v1.22h-1.22zM565.42 566.39h1.22v1.22h-1.22zM566.64 566.39h1.22v1.22h-1.22zM567.86 566.39h1.22v1.22h-1.22zM569.08 566.39h1.22v1.22h-1.22zM571.52 566.39h1.22v1.22h-1.22zM572.74 566.39h1.22v1.22h-1.22zM587.39 566.39h1.22v1.22h-1.22zM588.61 566.39h1.22v1.22h-1.22zM592.28 566.39h1.22v1.22h-1.22zM594.72 566.39h1.22v1.22h-1.22zM595.94 566.39h1.22v1.22h-1.22zM598.38 566.39h1.22v1.22h-1.22zM567.86 567.61h1.22v1.22h-1.22zM570.30 567.61h1.22v1.22h-1.22zM571.52 567.61h1.22v1.22h-1.22zM573.97 567.61h1.22v1.22h-1.22zM587.39 567.61h1.22v1.22h-1.22zM593.50 567.61h1.22v1.22h-1.22zM598.38 567.61h1.22v1.22h-1.22zM564.20 568.83h1.22v1.22h-1.22zM565.42 568.83h1.22v1.22h-1.22zM566.64 568.83h1.22v1.22h-1.22zM567.86 568.83h1.22v1.22h-1.22zM569.08 568.83h1.22v1.22h-1.22zM573.97 568.83h1.22v1.22h-1.22zM586.17 568.83h1.22v1.22h-1.22zM589.83 568.83h1.22v1.22h-1.22zM592.28 568.83h1.22v1.22h-1.22zM593.50 568.83h1.22v1.22h-1.22zM597.16 568.83h1.22v1.22h-1.22zM598.38 568.83h1.22v1.22h-1.22zM564.20 570.05h1.22v1.22h-1.22zM565.42 570.05h1.22v1.22h-1.22zM566.64 570.05h1.22v1.22h-1.22zM567.86 570.05h1.22v1.22h-1.22zM570.30 570.05h1.22v1.22h-1.22zM572.74 570.05h1.22v1.22h-1.22zM573.97 570.05h1.22v1.22h-1.22zM575.19 570.05h1.22v1.22h-1.22zM586.17 570.05h1.22v1.22h-1.22zM587.39 570.05h1.22v1.22h-1.22zM592.28 570.05h1.22v1.22h-1.22zM593.50 570.05h1.22v1.22h-1.22zM594.72 570.05h1.22v1.22h-1.22zM597.16 570.05h1.22v1.22h-1.22zM598.38 570.05h1.22v1.22h-1.22zM564.20 571.27h1.22v1.22h-1.22zM567.86 571.27h1.22v1.22h-1.22zM569.08 571.27h1.22v1.22h-1.22zM573.97 571.27h1.22v1.22h-1.22zM575.19 571.27h1.22v1.22h-1.22zM577.63 571.27h1.22v1.22h-1.22zM578.85 571.27h1.22v1.22h-1.22zM587.39 571.27h1.22v1.22h-1.22zM589.83 571.27h1.22v1.22h-1.22zM592.28 571.27h1.22v1.22h-1.22zM593.50 571.27h1.22v1.22h-1.22zM597.16 571.27h1.22v1.22h-1.22zM598.38 571.27h1.22v1.22h-1.22zM565.42 572.49h1.22v1.22h-1.22zM566.64 572.49h1.22v1.22h-1.22zM567.86 572.49h1.22v1.22h-1.22zM569.08 572.49h1.22v1.22h-1.22zM570.30 572.49h1.22v1.22h-1.22zM571.52 572.49h1.22v1.22h-1.22zM572.74 572.49h1.22v1.22h-1.22zM575.19 572.49h1.22v1.22h-1.22zM576.41 572.49h1.22v1.22h-1.22zM577.63 572.49h1.22v1.22h-1.22zM578.85 572.49h1.22v1.22h-1.22zM580.07 572.49h1.22v1.22h-1.22zM581.29 572.49h1.22v1.22h-1.22zM582.51 572.49h1.22v1.22h-1.22zM586.17 572.49h1.22v1.22h-1.22zM587.39 572.49h1.22v1.22h-1.22zM589.83 572.49h1.22v1.22h-1.22zM592.28 572.49h1.22v1.22h-1.22zM593.50 572.49h1.22v1.22h-1.22zM595.94 572.49h1.22v1.22h-1.22zM597.16 572.49h1.22v1.22h-1.22zM565.42 573.71h1.22v1.22h-1.22zM570.30 573.71h1.22v1.22h-1.22zM571.52 573.71h1.22v1.22h-1.22zM572.74 573.71h1.22v1.22h-1.22zM573.97 573.71h1.22v1.22h-1.22zM575.19 573.71h1.22v1.22h-1.22zM577.63 573.71h1.22v1.22h-1.22zM578.85 573.71h1.22v1.22h-1.22zM580.07 573.71h1.22v1.22h-1.22zM584.95 573.71h1.22v1.22h-1.22zM586.17 573.71h1.22v1.22h-1.22zM587.39 573.71h1.22v1.22h-1.22zM588.61 573.71h1.22v1.22h-1.22zM589.83 573.71h1.22v1.22h-1.22zM591.06 573.71h1.22v1.22h-1.22zM592.28 573.71h1.22v1.22h-1.22zM597.16 573.71h1.22v1.22h-1.22zM573.97 574.93h1.22v1.22h-1.22zM575.19 574.93h1.22v1.22h-1.22zM576.41 574.93h1.22v1.22h-1.22zM577.63 574.93h1.22v1.22h-1.22zM578.85 574.93h1.22v1.22h-1.22zM580.07 574.93h1.22v1.22h-1.22zM581.29 574.93h1.22v1.22h-1.22zM582.51 574.93h1.22v1.22h-1.22zM583.73 574.93h1.22v1.22h-1.22zM584.95 574.93h1.22v1.22h-1.22zM586.17 574.93h1.22v1.22h-1.22zM587.39 574.93h1.22v1.22h-1.22zM588.61 574.93h1.22v1.22h-1.22zM589.83 574.93h1.22v1.22h-1.22zM591.06 574.93h1.22v1.22h-1.22zM592.28 574.93h1.22v1.22h-1.22zM575.19 576.16h1.22v1.22h-1.22zM576.41 576.16h1.22v1.22h-1.22zM578.85 576.16h1.22v1.22h-1.22zM582.51 576.16h1.22v1.22h-1.22zM589.83 576.16h1.22v1.22h-1.22zM592.28 576.16h1.22v1.22h-1.22zM576.41 577.38h1.22v1.22h-1.22zM577.63 577.38h1.22v1.22h-1.22zM578.85 577.38h1.22v1.22h-1.22zM580.07 577.38h1.22v1.22h-1.22zM581.29 577.38h1.22v1.22h-1.22zM588.61 577.38h1.22v1.22h-1.22zM589.83 577.38h1.22v1.22h-1.22zM593.50 577.38h1.22v1.22h-1.22zM597.16 577.38h1.22v1.22h-1.22zM573.97 578.60h1.22v1.22h-1.22zM575.19 578.60h1.22v1.22h-1.22zM576.41 578.60h1.22v1.22h-1.22zM578.85 578.60h1.22v1.22h-1.22zM582.51 578.60h1.22v1.22h-1.22zM583.73 578.60h1.22v1.22h-1.22zM584.95 578.60h1.22v1.22h-1.22zM591.06 578.60h1.22v1.22h-1.22zM592.28 578.60h1.22v1.22h-1.22zM593.50 578.60h1.22v1.22h-1.22zM595.94 578.60h1.22v1.22h-1.22zM598.38 578.60h1.22v1.22h-1.22zM573.97 579.82h1.22v1.22h-1.22zM575.19 579.82h1.22v1.22h-1.22zM580.07 579.82h1.22v1.22h-1.22zM581.29 579.82h1.22v1.22h-1.22zM582.51 579.82h1.22v1.22h-1.22zM583.73 579.82h1.22v1.22h-1.22zM584.95 579.82h1.22v1.22h-1.22zM587.39 579.82h1.22v1.22h-1.22zM591.06 579.82h1.22v1.22h-1.22zM592.28 579.82h1.22v1.22h-1.22zM595.94 579.82h1.22v1.22h-1.22zM597.16 579.82h1.22v1.22h-1.22zM598.38 579.82h1.22v1.22h-1.22zM575.19 581.04h1.22v1.22h-1.22zM577.63 581.04h1.22v1.22h-1.22zM581.29 581.04h1.22v1.22h-1.22zM583.73 581.04h1.22v1.22h-1.22zM587.39 581.04h1.22v1.22h-1.22zM589.83 581.04h1.22v1.22h-1.22zM591.06 581.04h1.22v1.22h-1.22zM592.28 581.04h1.22v1.22h-1.22zM593.50 581.04h1.22v1.22h-1.22zM594.72 581.04h1.22v1.22h-1.22zM595.94 581.04h1.22v1.22h-1.22zM597.16 581.04h1.22v1.22h-1.22zM598.38 581.04h1.22v1.22h-1.22zM573.97 582.26h1.22v1.22h-1.22zM576.41 582.26h1.22v1.22h-1.22zM580.07 582.26h1.22v1.22h-1.22zM584.95 582.26h1.22v1.22h-1.22zM586.17 582.26h1.22v1.22h-1.22zM587.39 582.26h1.22v1.22h-1.22zM591.06 582.26h1.22v1.22h-1.22zM592.28 582.26h1.22v1.22h-1.22zM593.50 582.26h1.22v1.22h-1.22zM594.72 582.26h1.22v1.22h-1.22zM595.94 582.26h1.22v1.22h-1.22zM598.38 582.26h1.22v1.22h-1.22zM575.19 583.48h1.22v1.22h-1.22zM576.41 583.48h1.22v1.22h-1.22zM577.63 583.48h1.22v1.22h-1.22zM578.85 583.48h1.22v1.22h-1.22zM580.07 583.48h1.22v1.22h-1.22zM591.06 583.48h1.22v1.22h-1.22zM593.50 583.48h1.22v1.22h-1.22zM597.16 583.48h1.22v1.22h-1.22zM598.38 583.48h1.22v1.22h-1.22z" fill="#1a1a1a"/>
<rect x="564.81" y="549.91" width="7.32" height="7.32" fill="none" stroke="#1a1a1a" stroke-width="1.22"/>
<rect x="566.64" y="551.74" width="3.66" height="3.66" fill="#1a1a1a"/>
<rect x="591.67" y="549.91" width="7.32" height="7.32" fill="none" stroke="#1a1a1a" stroke-width="1.22"/>
<rect x="593.50" y="551.74" width="3.66" height="3.66" fill="#1a1a1a"/>
<rect x="564.81" y="576.77" width="7.32" height="7.32" fill="none" stroke="#1a1a1a" stroke-width="1.22"/>
<rect x="566.64" y="578.60" width="3.66" height="3.66" fill="#1a1a1a"/>
<circle cx="582.3" cy="566.9" r="5.4" fill="#fff"/>
<circle cx="582.3" cy="566.9" r="4.7" fill="#27a9a6"/>
<text class="cjk" x="582.3" y="569" text-anchor="middle" font-size="5.6" font-weight="700" fill="#eafafa">云</text>
<circle cx="568.1" cy="588.8" r="1.5" fill="#1fc04a"/>
<text class="cjk" x="570.6" y="589.9" font-size="2.55" fill="#555">微信扫一扫，使用小程序</text>
<text x="562.8" y="603.5" font-size="7.3" font-weight="700" letter-spacing="0.42" fill="#2a2a2a">YCD1-10A</text>
<path d="M385.4 643.7H424.3V656.5H385.4ZM405 643.7V656.5M431.0 643.7H588.8V656.5H431.0ZM450.7 643.7V656.5M470.4 643.7V656.5M490.2 643.7V656.5M509.9 643.7V656.5M529.6 643.7V656.5M549.3 643.7V656.5M569.0 643.7V656.5M395.3 643.7V625.6H403l1.2 -1l1.2 1H558.4V640.3M395.3 628.8H403l1.2 -1l1.2 1H520.4V640.3M395.3 632H403l1.2 -1l1.2 1H480.4V643.7M395.3 635.2H403l1.2 -1l1.2 1H441.4V643.7M414.7 643.7V640.3H425.6M430 640.3H579V643.7M460.2 640.3V643.7M499.6 640.3V643.7M539.1 640.3V643.7" fill="none" stroke="#7d7d7a" stroke-width="0.6"/>
<ellipse cx="427.8" cy="640.3" rx="2.3" ry="1.1" fill="#f4f3f0" stroke="#555" stroke-width="0.6"/>
<circle cx="395.2" cy="650.1" r="3.1" fill="none" stroke="#7d7d7a" stroke-width="0.6"/><circle cx="395.2" cy="650.1" r="0.9" fill="#7d7d7a"/>
<circle cx="414.7" cy="650.1" r="3.1" fill="none" stroke="#7d7d7a" stroke-width="0.6"/><circle cx="414.7" cy="650.1" r="0.9" fill="#7d7d7a"/>
<circle cx="440.9" cy="650.1" r="3.1" fill="none" stroke="#7d7d7a" stroke-width="0.6"/><circle cx="440.9" cy="650.1" r="0.9" fill="#7d7d7a"/>
<circle cx="460.6" cy="650.1" r="3.1" fill="none" stroke="#7d7d7a" stroke-width="0.6"/><circle cx="460.6" cy="650.1" r="0.9" fill="#7d7d7a"/>
<circle cx="480.3" cy="650.1" r="3.1" fill="none" stroke="#7d7d7a" stroke-width="0.6"/><circle cx="480.3" cy="650.1" r="0.9" fill="#7d7d7a"/>
<circle cx="500.0" cy="650.1" r="3.1" fill="none" stroke="#7d7d7a" stroke-width="0.6"/><circle cx="500.0" cy="650.1" r="0.9" fill="#7d7d7a"/>
<circle cx="519.7" cy="650.1" r="3.1" fill="none" stroke="#7d7d7a" stroke-width="0.6"/><circle cx="519.7" cy="650.1" r="0.9" fill="#7d7d7a"/>
<circle cx="539.5" cy="650.1" r="3.1" fill="none" stroke="#7d7d7a" stroke-width="0.6"/><circle cx="539.5" cy="650.1" r="0.9" fill="#7d7d7a"/>
<circle cx="559.2" cy="650.1" r="3.1" fill="none" stroke="#7d7d7a" stroke-width="0.6"/><circle cx="559.2" cy="650.1" r="0.9" fill="#7d7d7a"/>
<circle cx="578.9" cy="650.1" r="3.1" fill="none" stroke="#7d7d7a" stroke-width="0.6"/><circle cx="578.9" cy="650.1" r="0.9" fill="#7d7d7a"/>
<path d="M402.3 656.5V661.3M408.9 656.5V661.3" stroke="#7d7d7a" stroke-width="0.6" fill="none"/>
<rect x="400.2" y="661.3" width="10.8" height="6.4" fill="#f7f7f5" stroke="#666" stroke-width="0.6"/>
<circle cx="403.0" cy="664.5" r="1.1" fill="#222"/>
<text x="405.8" y="665.6" font-size="3" fill="#333">A</text>
<text class="cjk" x="405.6" y="672.6" text-anchor="middle" font-size="3" fill="#555">AC220V</text>
<path d="M447.4 656.5V661.3M454.0 656.5V661.3" stroke="#7d7d7a" stroke-width="0.6" fill="none"/>
<rect x="445.3" y="661.3" width="10.8" height="6.4" fill="#f7f7f5" stroke="#666" stroke-width="0.6"/>
<circle cx="448.1" cy="664.5" r="1.1" fill="#222"/>
<text class="cjk" x="450.9" y="665.6" font-size="2.8" fill="#333">负载</text>
<text class="cjk" x="450.7" y="672.6" text-anchor="middle" font-size="3" fill="#555">1# 负载</text>
<path d="M486.9 656.5V661.3M493.5 656.5V661.3" stroke="#7d7d7a" stroke-width="0.6" fill="none"/>
<rect x="484.8" y="661.3" width="10.8" height="6.4" fill="#f7f7f5" stroke="#666" stroke-width="0.6"/>
<circle cx="487.6" cy="664.5" r="1.1" fill="#222"/>
<text class="cjk" x="490.4" y="665.6" font-size="2.8" fill="#333">负载</text>
<text class="cjk" x="490.2" y="672.6" text-anchor="middle" font-size="3" fill="#555">2# 负载</text>
<path d="M526.3 656.5V661.3M532.9 656.5V661.3" stroke="#7d7d7a" stroke-width="0.6" fill="none"/>
<rect x="524.2" y="661.3" width="10.8" height="6.4" fill="#f7f7f5" stroke="#666" stroke-width="0.6"/>
<circle cx="527.0" cy="664.5" r="1.1" fill="#222"/>
<text class="cjk" x="529.8" y="665.6" font-size="2.8" fill="#333">负载</text>
<text class="cjk" x="529.6" y="672.6" text-anchor="middle" font-size="3" fill="#555">3# 负载</text>
<path d="M565.7 656.5V661.3M572.3 656.5V661.3" stroke="#7d7d7a" stroke-width="0.6" fill="none"/>
<rect x="563.6" y="661.3" width="10.8" height="6.4" fill="#f7f7f5" stroke="#666" stroke-width="0.6"/>
<circle cx="566.4" cy="664.5" r="1.1" fill="#222"/>
<text class="cjk" x="569.2" y="665.6" font-size="2.8" fill="#333">负载</text>
<text class="cjk" x="569.0" y="672.6" text-anchor="middle" font-size="3" fill="#555">4# 负载</text>
<defs><linearGradient id="gLedge" x1="0" y1="0" x2="0" y2="1"><stop offset="0" stop-color="#a2dbab"/><stop offset="1" stop-color="#78c389"/></linearGradient></defs>
<rect x="363" y="697.8" width="249.5" height="5" fill="#c9c8c2"/>
<rect x="412" y="698" width="6" height="18" fill="#5a6a5c"/>
<rect x="610.5" y="698.3" width="4" height="14.5" fill="#2e2e2c"/>
<rect x="364.5" y="698.6999999999999" width="47" height="14.0" fill="#27502f" stroke="#84d694" stroke-width="2"/>
<path d="M367 712.4H412.6V719.0L411.4 720.2H368Z" fill="url(#gLedge)"/>
<rect x="367.5" y="718.6" width="44" height="1.6" fill="#5fae72"/>
<circle cx="375.5" cy="705.3" r="7.3" fill="#2c5235" stroke="#8bdc9b" stroke-width="2.3"/>
<circle cx="375.5" cy="705.3" r="4.6" fill="url(#gTScrew)"/>
<path d="M374.9 701.9L376.1 708.6999999999999" stroke="#8aa595" stroke-width="1.1"/>
<circle cx="399.3" cy="705.3" r="7.3" fill="#2c5235" stroke="#8bdc9b" stroke-width="2.3"/>
<circle cx="399.3" cy="705.3" r="4.6" fill="url(#gTScrew)"/>
<path d="M398.7 701.9L399.90000000000003 708.6999999999999" stroke="#8aa595" stroke-width="1.1"/>
<rect x="418.1" y="698.6999999999999" width="95.39999999999998" height="15.899999999999977" fill="#27502f" stroke="#84d694" stroke-width="2"/>
<path d="M418.4 714.3H514.6V722.0L513.4 723.2H419.4Z" fill="url(#gLedge)"/>
<rect x="418.9" y="721.6" width="94.60000000000002" height="1.6" fill="#5fae72"/>
<circle cx="429.7" cy="706.6" r="7.3" fill="#2c5235" stroke="#8bdc9b" stroke-width="2.3"/>
<circle cx="429.7" cy="706.6" r="4.6" fill="url(#gTScrew)"/>
<path d="M429.09999999999997 703.2L430.3 710.0" stroke="#8aa595" stroke-width="1.1"/>
<circle cx="453.6" cy="706.6" r="7.3" fill="#2c5235" stroke="#8bdc9b" stroke-width="2.3"/>
<circle cx="453.6" cy="706.6" r="4.6" fill="url(#gTScrew)"/>
<path d="M453.0 703.2L454.20000000000005 710.0" stroke="#8aa595" stroke-width="1.1"/>
<circle cx="477.3" cy="706.6" r="7.3" fill="#2c5235" stroke="#8bdc9b" stroke-width="2.3"/>
<circle cx="477.3" cy="706.6" r="4.6" fill="url(#gTScrew)"/>
<path d="M476.7 703.2L477.90000000000003 710.0" stroke="#8aa595" stroke-width="1.1"/>
<circle cx="501.2" cy="706.6" r="7.3" fill="#2c5235" stroke="#8bdc9b" stroke-width="2.3"/>
<circle cx="501.2" cy="706.6" r="4.6" fill="url(#gTScrew)"/>
<path d="M500.59999999999997 703.2L501.8 710.0" stroke="#8aa595" stroke-width="1.1"/>
<rect x="515.1" y="698.6999999999999" width="95.39999999999998" height="15.899999999999977" fill="#27502f" stroke="#84d694" stroke-width="2"/>
<path d="M515 714.3H611.6V722.0L610.4 723.2H516Z" fill="url(#gLedge)"/>
<rect x="515.5" y="721.6" width="95" height="1.6" fill="#5fae72"/>
<circle cx="526.2" cy="706.6" r="7.3" fill="#2c5235" stroke="#8bdc9b" stroke-width="2.3"/>
<circle cx="526.2" cy="706.6" r="4.6" fill="url(#gTScrew)"/>
<path d="M525.6 703.2L526.8000000000001 710.0" stroke="#8aa595" stroke-width="1.1"/>
<circle cx="550" cy="706.6" r="7.3" fill="#2c5235" stroke="#8bdc9b" stroke-width="2.3"/>
<circle cx="550" cy="706.6" r="4.6" fill="url(#gTScrew)"/>
<path d="M549.4 703.2L550.6 710.0" stroke="#8aa595" stroke-width="1.1"/>
<circle cx="573.7" cy="706.6" r="7.3" fill="#2c5235" stroke="#8bdc9b" stroke-width="2.3"/>
<circle cx="573.7" cy="706.6" r="4.6" fill="url(#gTScrew)"/>
<path d="M573.1 703.2L574.3000000000001 710.0" stroke="#8aa595" stroke-width="1.1"/>
<circle cx="597.3" cy="706.6" r="7.3" fill="#2c5235" stroke="#8bdc9b" stroke-width="2.3"/>
<circle cx="597.3" cy="706.6" r="4.6" fill="url(#gTScrew)"/>
<path d="M596.6999999999999 703.2L597.9 710.0" stroke="#8aa595" stroke-width="1.1"/>
</g>
</svg>
</body>
</html>
